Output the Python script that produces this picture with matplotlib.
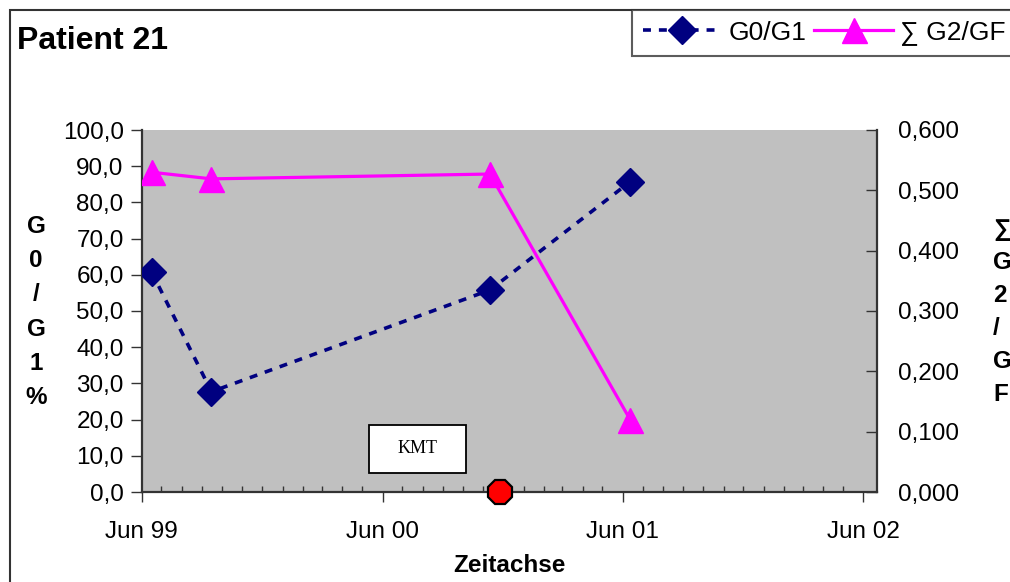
import matplotlib
matplotlib.use("Agg")
import matplotlib.pyplot as plt
import matplotlib.dates as mdates
import matplotlib.patches as patches
from matplotlib.ticker import FuncFormatter, MultipleLocator
import pandas as pd

plt.rcParams['font.family'] = ['Liberation Sans', 'DejaVu Sans']

# Measurements for patient 21
dates = pd.to_datetime(['1999-06-16', '1999-09-15', '2000-11-11', '2001-06-12'])
g0_g1 = [60.8, 27.7, 55.8, 85.7]
g2_gf = [0.530, 0.519, 0.527, 0.120]
kmt_date = pd.to_datetime(['2000-11-26'])
kmt_value = [0.0]

x_start = pd.Timestamp('1999-06-01')
x_end = pd.Timestamp('2002-06-22')

fs = 17.5

fig = plt.figure(figsize=(10.1, 5.82), dpi=100)
ax = fig.add_axes([141.7 / 1010, 1 - 492 / 582, (877 - 141.7) / 1010, 362 / 582])
ax.set_facecolor('#C0C0C0')
ax2 = ax.twinx()

line1, = ax.plot(dates, g0_g1, color='#000080', lw=2.6, ls=(0, (2.2, 2.2)),
                 marker='D', ms=14.5, markeredgecolor='#000080', label='G0/G1', zorder=3)
line2, = ax2.plot(dates, g2_gf, color='#FF00FF', lw=2.3, marker='^', ms=18,
                  markeredgecolor='#FF00FF', label='\u2211 G2/GF', zorder=3)

# KMT marker sits on the time axis
ax.plot(kmt_date, kmt_value, ls='none', marker='8', ms=19, color='#FF0000',
        markeredgecolor='black', markeredgewidth=1.6, clip_on=False, zorder=6)

ax.set_xlim(x_start, x_end)
ax.set_ylim(0, 100)
ax2.set_ylim(0, 0.6)

ax.xaxis.set_major_locator(mdates.YearLocator(month=6))
ax.xaxis.set_minor_locator(mdates.MonthLocator())
ax.xaxis.set_major_formatter(mdates.DateFormatter('Jun %y'))
ax.yaxis.set_major_locator(MultipleLocator(10))
ax2.yaxis.set_major_locator(MultipleLocator(0.1))
ax.yaxis.set_major_formatter(FuncFormatter(lambda v, p: f"{v:.1f}".replace('.', ',')))
ax2.yaxis.set_major_formatter(FuncFormatter(lambda v, p: f"{v:.3f}".replace('.', ',')))

axis_col = '#333333'
ax.tick_params(axis='x', which='major', direction='out', length=7, width=1,
               color=axis_col, labelsize=fs, pad=14)
ax.tick_params(axis='x', which='minor', direction='in', length=4, width=1, color=axis_col)
ax.tick_params(axis='y', direction='out', length=8, width=1, color=axis_col,
               labelsize=fs, pad=5)
ax2.tick_params(axis='y', direction='in', length=8, width=1, color=axis_col,
                labelsize=fs, pad=15)

for s in ['top', 'right']:
    ax.spines[s].set_visible(False)
for s in ['top', 'left', 'bottom']:
    ax2.spines[s].set_visible(False)
for sp in [ax.spines['left'], ax.spines['bottom'], ax2.spines['right']]:
    sp.set_color(axis_col)
    sp.set_linewidth(1.6)

ax.set_xlabel('Zeitachse', fontsize=fs, fontweight='bold', labelpad=8)

# vertical axis captions
fig.text(36 / 1010, 1 - 312 / 582, 'G\n0\n/\nG\n1\n%', ha='center', va='center',
         fontsize=fs, fontweight='bold', linespacing=1.62)
fig.text(993 / 1010, 1 - 312 / 582, '\u2211\nG\n2\n/\nG\nF', ha='left', va='center',
         fontsize=fs, fontweight='bold', linespacing=1.55)

fig.text(17 / 1010, 1 - 49 / 582, 'Patient 21', ha='left', va='baseline',
         fontsize=23, fontweight='bold')

# KMT annotation box
ax.add_patch(patches.Rectangle((0.309, 0.0525), 0.132, 0.1325, transform=ax.transAxes,
                               facecolor='white', edgecolor='black', lw=1.3, zorder=4))
ax.text(0.375, 0.119, 'KMT', transform=ax.transAxes, ha='center', va='center',
        fontsize=13, family='Liberation Serif', zorder=5)

leg = fig.legend(handles=[line1, line2], loc='upper left', ncol=2,
                 bbox_to_anchor=(632 / 1010, 1 - 10 / 582), fontsize=19,
                 frameon=True, fancybox=False, handlelength=3.0, handletextpad=0.25,
                 columnspacing=0.3, borderpad=0.4, borderaxespad=0)
leg.get_frame().set_edgecolor('#333333')
leg.get_frame().set_linewidth(1.5)

# chart area frame
fig.add_artist(patches.Rectangle((10 / 1010, -0.2), 1.2, 1.2 - 10 / 582,
                                 transform=fig.transFigure, fill=False,
                                 edgecolor='#333333', lw=1.5))

fig.savefig('out.png', dpi=100)
